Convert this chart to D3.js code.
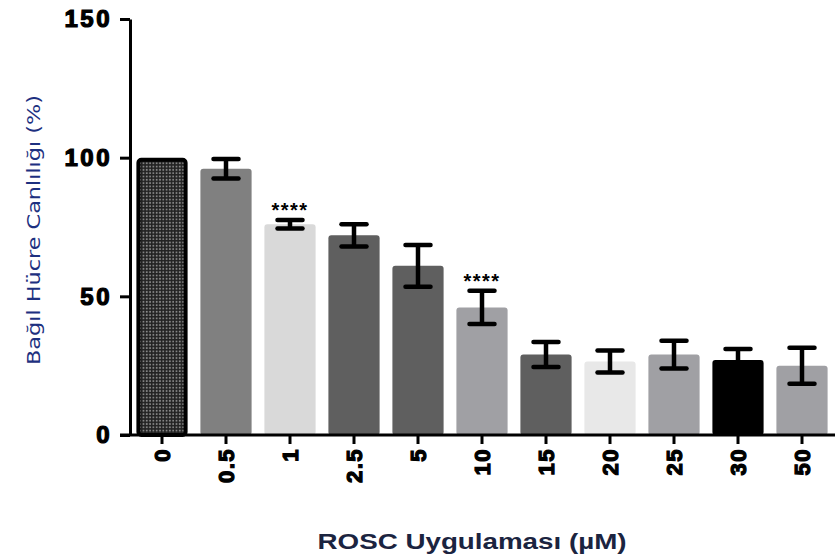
<!DOCTYPE html>
<html><head><meta charset="utf-8">
<script src="https://cdn.jsdelivr.net/npm/d3@7"></script>
<style>body{margin:0;background:#fff}svg{display:block}</style>
</head><body>
<script>
const categories = ["0","0.5","1","2.5","5","10","15","20","25","30","50"];
const values = [100, 96, 76, 72, 61, 46, 29, 26.5, 29, 27, 25];
const errors = [0, 3.5, 1.5, 4, 7.5, 6, 4.5, 4, 5, 4, 6.5];
const colors = ["pattern","#808080","#d9d9d9","#5f5f5f","#5f5f5f","#a0a0a4","#5f5f5f","#e8e8e8","#a0a0a4","#000000","#a0a0a4"];
const significance = ["","","****","","","****","","","","",""];
const yTicks = [0, 50, 100, 150];

const W = 835, H = 560;
const svg = d3.select("body").append("svg").attr("width", W).attr("height", H);

const defs = svg.append("defs");
const pat = defs.append("pattern").attr("id","checker").attr("patternUnits","userSpaceOnUse")
  .attr("width",3.3).attr("height",3.3);
pat.append("rect").attr("width",3.3).attr("height",3.3).attr("fill","#222");
pat.append("rect").attr("x",0.7).attr("y",0.7).attr("width",1.7).attr("height",1.7).attr("fill","#8c8c8c");

const x = d3.scaleBand().domain(categories).range([130, 834]).paddingInner(0.2).paddingOuter(0.1);
const y = d3.scaleLinear().domain([0, 150]).range([435, 19]);

const g = svg.append("g");
categories.forEach((c, i) => {
  const isPat = colors[i] === "pattern";
  g.append("rect")
    .attr("x", x(c) + (isPat ? 2 : 0))
    .attr("y", y(values[i]) + (isPat ? 2 : 0))
    .attr("width", x.bandwidth() - (isPat ? 4 : 0))
    .attr("height", y(0) - y(values[i]) - (isPat ? 2 : 0))
    .attr("rx", 3).attr("ry", 3)
    .attr("fill", isPat ? "url(#checker)" : colors[i])
    .attr("stroke", isPat ? "#000" : "none")
    .attr("stroke-width", isPat ? 4 : 0);
});

const capW = 12.5;
categories.forEach((c, i) => {
  if (!errors[i]) return;
  const cx = x(c) + x.bandwidth() / 2;
  const eg = g.append("g").attr("stroke", "#000");
  eg.append("line").attr("x1", cx).attr("x2", cx).attr("y1", y(values[i] + errors[i])).attr("y2", y(values[i] - errors[i])).attr("stroke-width", 4.5);
  [values[i] + errors[i], values[i] - errors[i]].forEach(v => {
    eg.append("line").attr("x1", cx - capW).attr("x2", cx + capW).attr("y1", y(v)).attr("y2", y(v))
      .attr("stroke-linecap","round").attr("stroke-width",4.5);
  });
});

categories.forEach((c, i) => {
  if (!significance[i]) return;
  svg.append("text")
    .attr("x", x(c) + x.bandwidth() / 2)
    .attr("y", y(values[i] + errors[i]) - 3)
    .attr("text-anchor", "middle")
    .attr("font-family", "Liberation Sans, Arial, sans-serif")
    .attr("font-weight", "bold").attr("font-size", 20)
    .attr("letter-spacing", 1.5)
    .attr("fill", "#000")
    .text(significance[i]);
});

const heavy = sel => sel.attr("font-family", "Liberation Sans, Arial, sans-serif")
  .attr("font-weight", "bold").attr("fill", "#000")
  .attr("stroke", "#000").attr("stroke-width", 1.2).attr("paint-order","stroke");

const yAxis = svg.append("g").attr("transform", "translate(130,0)")
  .call(d3.axisLeft(y).tickValues(yTicks).tickSize(10).tickPadding(8).tickSizeOuter(0));
yAxis.select(".domain").attr("stroke", "#000").attr("stroke-width", 3);
yAxis.selectAll(".tick line").attr("stroke", "#000").attr("stroke-width", 3);
yAxis.selectAll(".tick text").call(heavy).attr("font-size", 24).attr("letter-spacing", 2.5);

const xAxis = svg.append("g").attr("transform", "translate(0,435)")
  .call(d3.axisBottom(x).tickSize(9).tickSizeOuter(0));
xAxis.select(".domain").attr("stroke", "#000").attr("stroke-width", 3).attr("d", "M120,0H835");
xAxis.selectAll(".tick line").attr("stroke", "#000").attr("stroke-width", 3);
xAxis.selectAll(".tick text").call(heavy)
  .attr("font-size", 22).attr("letter-spacing", 1.5)
  .attr("text-anchor", "end")
  .attr("transform", "rotate(-90)")
  .attr("x", -13).attr("y", 0).attr("dy", "0.35em");

svg.append("text")
  .attr("transform", "translate(40,230) rotate(-90)")
  .attr("text-anchor", "middle")
  .attr("font-family", "DejaVu Sans, sans-serif")
  .attr("font-size", 18).attr("fill", "#1d3080")
  .attr("textLength", 270).attr("lengthAdjust", "spacingAndGlyphs")
  .text("Bağıl Hücre Canlılığı (%)");

svg.append("text")
  .attr("x", 472).attr("y", 549)
  .attr("text-anchor", "middle")
  .attr("font-family", "Liberation Sans, Arial, sans-serif")
  .attr("font-weight", "bold").attr("font-size", 22).attr("fill", "#1b2440")
  .attr("textLength", 309).attr("lengthAdjust", "spacingAndGlyphs")
  .text("ROSC Uygulaması (µM)");
</script>
</body></html>
